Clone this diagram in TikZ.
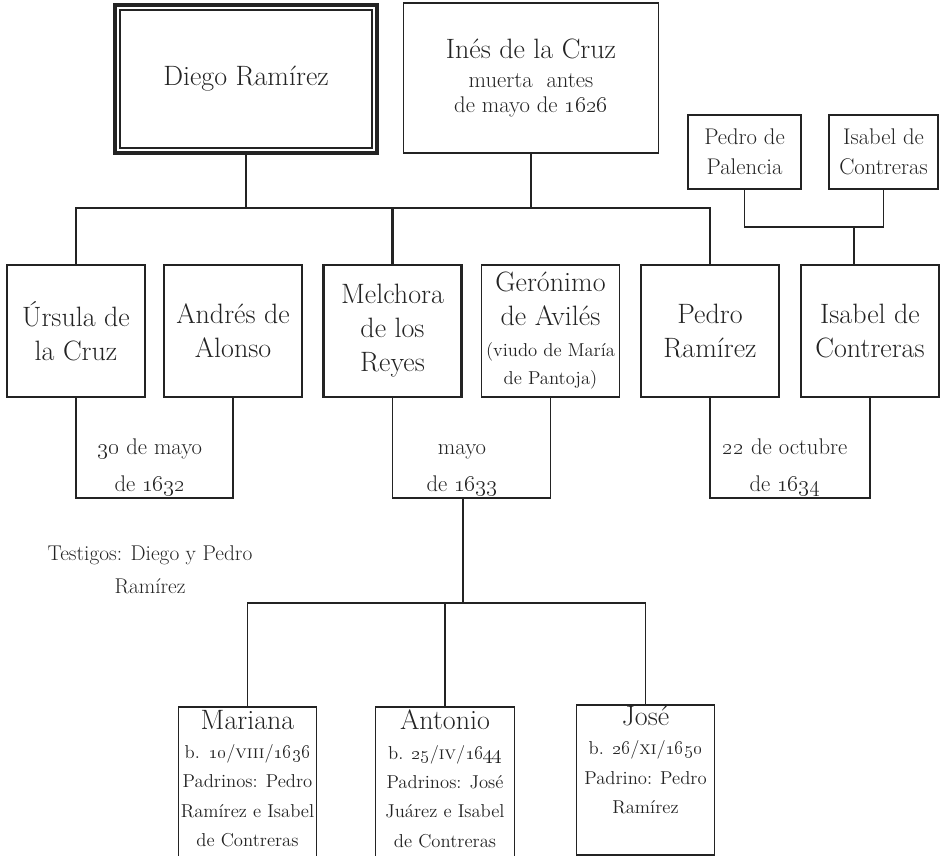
\documentclass[tikz,border=0pt]{standalone}
\usepackage{tikz}
\usetikzlibrary{calc,positioning}
\definecolor{tinta}{HTML}{232323}
\def\os#1{\oldstylenums{#1}}
\def\chica{\fontsize{17}{22.5}\selectfont}
\def\menuda{\fontsize{14}{21}\selectfont}
\def\grande{\fontsize{21}{22}\selectfont}
\tikzset{
  caja/.style={draw=tinta, text=tinta, line width=0.8pt, outer sep=0pt, inner sep=0pt, align=center,
    minimum width=103.5pt, minimum height=99pt, font=\fontsize{21}{25.5}\selectfont},
  caja_gruesa/.style={caja, line width=1.7pt},
  rama/.style={draw=tinta, line width=0.8pt},
  rama_gruesa/.style={draw=tinta, line width=1.7pt},
  fecha/.style={text=tinta, align=center, inner sep=0pt, font=\fontsize{17}{27.75}\selectfont},
  hijo/.style={draw=tinta, line width=0.8pt, outer sep=0pt, inner sep=0pt, minimum width=104pt},
  hijo_texto/.style={text=tinta, align=center, inner sep=0pt, font=\fontsize{14}{22}\selectfont}
}
\def\boda(#1,#2){
  \draw[rama] (#1.south) |- (#2.south |- nivel_bodas) -- (#2.south);
}

\begin{document}
\begin{tikzpicture}[x=0.75pt,y=-0.75pt]
\useasboundingbox (0,0) rectangle (940,856);
\clip (0,0) rectangle (940,856);

\node[caja, line width=2.4pt, minimum width=196.5pt, minimum height=111pt] (diego) at (246,79) {Diego Ramírez};
\draw[rama] ([shift={(3.75pt,-3.75pt)}]diego.north west) rectangle ([shift={(-3.75pt,3.75pt)}]diego.south east);
\node[caja, minimum width=191pt, minimum height=112.5pt] (ines) at (531,78)
  {Inés de la Cruz\\[-3.75pt]{\chica muerta\ \ antes}\\[-6.75pt]{\chica de mayo de \os{1626}}};

\node[caja, font=\chica, minimum width=84.75pt, minimum height=55.5pt] (palencia) at (744.5,152) {Pedro de\\Palencia};
\node[caja, font=\chica, minimum width=81.75pt, minimum height=55.5pt] (isabel_madre) at (883.5,152) {Isabel de\\Contreras};

\node[caja_gruesa] (ursula) at (76,331) {Úrsula de\\la Cruz};
\node[caja] (andres) at (233,331) {Andrés de\\Alonso};
\node[caja_gruesa] (melchora) at (392.5,331) {Melchora\\de los\\Reyes};
\node[caja] (geronimo) at (550.5,331)
  {Gerónimo\\de Avilés\\[-2.25pt]{\menuda (viudo de María}\\[-4.5pt]{\menuda de Pantoja)}};
\node[caja_gruesa] (pedro) at (710,331) {Pedro\\Ramírez};
\node[caja] (isabel) at (870,331) {Isabel de\\Contreras};

\coordinate (nivel_hijos) at (0,208);
\draw[rama_gruesa] (diego.south) -- (diego.south |- nivel_hijos);
\draw[rama_gruesa] (ines.south) -- (ines.south |- nivel_hijos);
\draw[rama_gruesa] (ursula.north) |- (pedro.north |- nivel_hijos) -- (pedro.north);
\draw[rama_gruesa] (melchora.north) -- (melchora.north |- nivel_hijos);

\coordinate (nivel_padres) at (0,227);
\coordinate (bajada_isabel) at (854,227);
\draw[rama] (palencia.south) |- (isabel_madre.south |- nivel_padres) -- (isabel_madre.south);
\draw[rama] (bajada_isabel) -- (bajada_isabel |- isabel.north);

\coordinate (nivel_bodas) at (0,498);
\boda(ursula,andres)
\boda(melchora,geronimo)
\boda(pedro,isabel)

\node[fecha] (boda_ursula) at (150,467) {\os{30} de mayo\\de \os{1632}};
\node[fecha] (boda_melchora) at (462,467) {\vphantom{d}mayo\\de \os{1633}};
\node[fecha] (boda_pedro) at (785,467) {\os{22} de octubre\\de \os{1634}};

\node[fecha, font=\fontsize{16}{24.75}\selectfont] (testigos) at (150,570) {Testigos: Diego y Pedro\\Ramírez};

\node[hijo, minimum height=123.75pt, anchor=north] (mariana) at (247.5,707) {};
\node[hijo, minimum height=123.75pt, anchor=north] (antonio) at (445,707) {};
\node[hijo, minimum height=112.5pt, anchor=north] (jose) at (645.5,705) {};

\coordinate (nivel_nietos) at (0,603);
\coordinate (hijos_melchora) at (463,498);
\draw[rama] (hijos_melchora) -- (hijos_melchora |- nivel_nietos);
\draw[rama] (mariana.north) |- (jose.north |- nivel_nietos) -- (jose.north);
\draw[rama] (antonio.north) -- (antonio.north |- nivel_nietos);

\node[hijo_texto, anchor=north] (mariana_txt) at ([yshift=-2pt]mariana.north)
  {{\grande Mariana}\\b. \os{10}/\textsc{viii}/\os{1636}\\Padrinos: Pedro\\Ramírez e Isabel\\de Contreras};
\node[hijo_texto, anchor=north] (antonio_txt) at ([yshift=-2pt]antonio.north)
  {{\grande Antonio}\\b. \os{25}/\textsc{iv}/\os{1644}\\Padrinos: José\\Juárez e Isabel\\de Contreras};
\node[hijo_texto, anchor=north] (jose_txt) at ([yshift=-0.5pt]jose.north)
  {{\grande José}\\b. \os{26}/\textsc{xi}/\os{1650}\\Padrino: Pedro\\Ramírez};
\end{tikzpicture}
\end{document}
